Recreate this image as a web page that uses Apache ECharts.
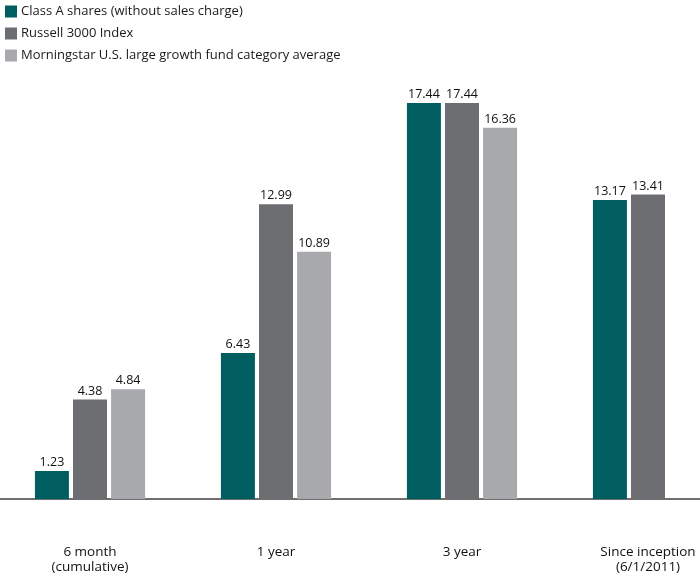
<!DOCTYPE html>
<html><head><meta charset="utf-8">
<script src="https://cdn.jsdelivr.net/npm/echarts@6/dist/echarts.min.js"></script>
<style>html,body{margin:0;padding:0;background:#fff}#c{width:700px;height:579px}</style>
</head><body><div id="c"></div>
<script>
const categories = ['6 month\n(cumulative)', '1 year', '3 year', 'Since inception\n(6/1/2011)'];
const seriesNames = ['Class A shares (without sales charge)', 'Russell 3000 Index', 'Morningstar U.S. large growth fund category average'];
const classA = [1.23, 6.43, 17.44, 13.17];
const russell = [4.38, 12.99, 17.44, 13.41];
const morningstar = [4.84, 10.89, 16.36, null];
const colors = ['#005e60', '#6d6e71', '#a7a9ac'];
const font = '"Open Sans", sans-serif';
const chart = echarts.init(document.getElementById('c'));
const mk = (name, data, color) => ({
  name, type: 'bar', data, barWidth: 34, barGap: '12%',
  itemStyle: { color },
  label: { show: true, position: 'top', distance: 2, color: '#111', fontSize: 12.5, fontFamily: font,
    formatter: p => p.value.toFixed(2) }
});
chart.setOption({
  animation: false,
  legend: {
    orient: 'vertical', left: 0, top: 0, itemWidth: 12, itemHeight: 12, itemGap: 9,
    icon: 'rect', textStyle: { fontSize: 13, color: '#1a1a1a', fontFamily: font, padding: [0,0,0,-1] },
    data: seriesNames
  },
  grid: { left: -3, width: 744, top: 45, bottom: 80, containLabel: false, outerBoundsMode: 'none' },
  xAxis: {
    type: 'category', data: categories,
    axisLine: { lineStyle: { color: '#3f3f41', width: 1.5 } },
    axisTick: { show: false },
    axisLabel: { margin: 46, fontSize: 13.5, lineHeight: 15, color: '#111', fontFamily: font, interval: 0 }
  },
  yAxis: { type: 'value', min: 0, max: 20, show: false, splitLine: { show: false } },
  series: [mk(seriesNames[0], classA, colors[0]), mk(seriesNames[1], russell, colors[1]), mk(seriesNames[2], morningstar, colors[2])]
});
</script></body></html>
